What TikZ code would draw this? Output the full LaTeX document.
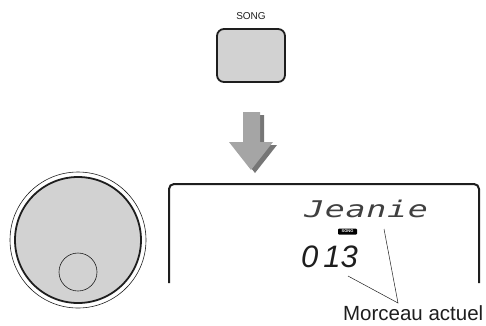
\documentclass[tikz,border=0pt]{standalone}
\usepackage{fontspec}
\setmainfont{Liberation Sans}
\newfontfamily\lcdfont{DejaVu Sans Mono}
\usetikzlibrary{positioning}
\definecolor{keygray}{RGB}{210,210,210}
\definecolor{arrowgray}{RGB}{165,165,165}
\definecolor{shadegray}{RGB}{118,118,118}
\definecolor{inkcolor}{RGB}{30,30,30}

\begin{document}
\begin{tikzpicture}[x=1pt, y=-1pt,
    keybox/.style={draw=inkcolor, line width=1.8pt, rounded corners=7pt,
       fill=keygray, minimum width=68pt, minimum height=53pt},
    keylbl/.style={font=\fontsize{10}{10}\selectfont, text=inkcolor},
    lcdchar/.style={font=\lcdfont\itshape\fontsize{23}{23}\selectfont,
       text=inkcolor!85, anchor=base, inner sep=0pt},
    segnum/.style={font=\itshape\fontsize{31}{31}\selectfont,
       text=inkcolor, anchor=base west, inner sep=0pt},
    badge/.style={fill=black, rounded corners=1pt, text=white, inner sep=0pt,
       minimum width=19pt, minimum height=6pt,
       font=\bfseries\fontsize{4}{4}\selectfont},
    callout/.style={draw=inkcolor, line width=0.5pt}
  ]
    \useasboundingbox (0,0) rectangle (486,325);

    % SONG button
    \node[keylbl] (songlbl) at (251,16) {SONG};
    \node[keybox] (songkey) at (251,55.5) {};

    % Down arrow with its shadow
    \fill[shadegray] (247,115) -- (264,115) -- (264,145) -- (277,145)
       -- (255,173) -- (233,145) -- (247,145) -- cycle;
    \fill[arrowgray] (243,112) -- (260,112) -- (260,142) -- (273,142)
       -- (251,170) -- (229,142) -- (243,142) -- cycle;

    % Dial
    \draw[inkcolor, line width=0.6pt] (78,240) circle[radius=68];
    \draw[inkcolor, line width=1.8pt, fill=keygray] (78,240) circle[radius=63];
    \draw[inkcolor, line width=0.6pt] (78,272) circle[radius=19];

    % Display frame
    \draw[inkcolor, line width=2pt, rounded corners=5pt]
       (169,283) -- (169,184) -- (479,184) -- (479,283);

    % Song name and number
    \foreach \c [count=\i] in {J,e,a,n,i,e} {
      \node[lcdchar] (name\i) at (293.6+20.7*\i, 217) {\scalebox{1.45}[1]{\c}};
    }
    \node[badge] (badge) at (347.5,231.5) {SONG};
    \node[segnum] (num) at (301,267) {0\kern5pt13};

    % Callout
    \node[font=\fontsize{20.5}{20.5}\selectfont, text=inkcolor, inner sep=0.5pt,
       anchor=base east] (cur) at (484,320) {Morceau actuel};
    \coordinate (tip) at (398,303);
    \coordinate (nameend) at (384,229);
    \coordinate (numend) at (348,276);
    \draw[callout] (nameend) -- (tip) -- (numend);
  \end{tikzpicture}
\end{document}
